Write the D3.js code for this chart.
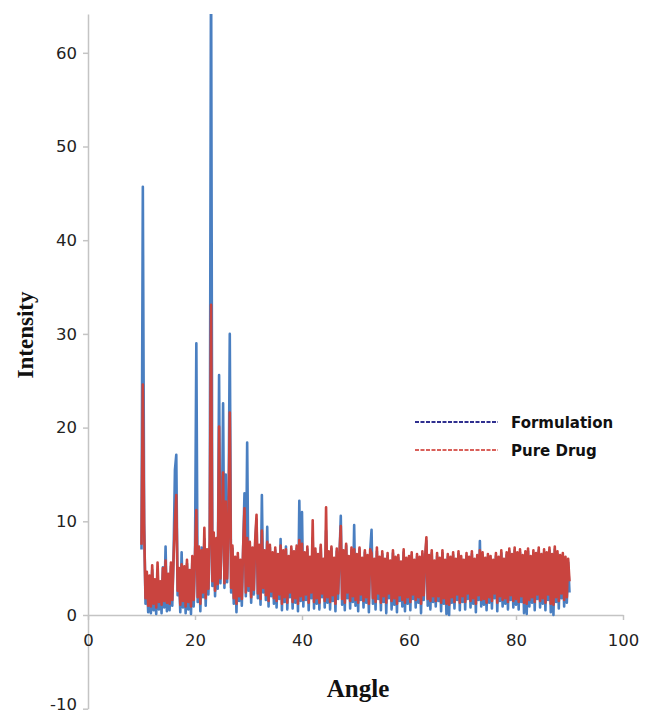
<!DOCTYPE html>
<html lang="en">
  <head>
    <meta charset="UTF-8" />
    <title>XRD</title>
    <script src="https://cdn.jsdelivr.net/npm/d3@7/dist/d3.min.js"></script>
    <style>
      body { margin: 0; background: #fff; }
      #svgBox { width: 646px; height: 716px; display: block; }
    </style>
  </head>
  <body>
    <svg id="svgBox"></svg>
  </body>
  <script>
    // sampling grid of the scan (degrees)
    const angleStart = 10
    const angleStep = 0.25
    const xTicks = [0, 20, 40, 60, 80, 100]
    const yTicks = [-10, 0, 10, 20, 30, 40, 50, 60]
    const seriesNames = ['Formulation', 'Pure Drug']

    // Formulation, 10 -> 90 deg
    const formulation = [
      7.0, 45.7, 9.8, 1.2, 4.1, 0.3, 3.6, 0.2, 4.8, 0.5, 3.2, 0.1, 4.4, 0.6, 3.0, 0.2, 5.1, 0.8, 7.3, 0.4,
      3.8, 0.5, 5.2, 1.0, 6.4, 15.5, 17.1, 2.1, 4.6, 0.3, 6.7, 0.8, 4.9, 0.2, 5.5, 0.6, 4.3, 0.1, 5.8, 0.9,
      5.9, 29.0, 1.4, 6.8, 0.4, 7.2, 1.9, 8.1, 1.0, 6.6, 2.2, 7.5, 72.0, 3.1, 8.4, 2.0, 7.9, 2.8, 25.6, 3.4,
      8.6, 22.6, 2.9, 15.0, 3.5, 9.2, 30.0, 2.4, 7.1, 1.2, 5.8, 0.3, 6.2, 1.5, 5.4, 1.0, 6.9, 13.0, 2.0, 18.4,
      2.6, 7.4, 1.3, 6.8, 2.2, 7.6, 10.2, 1.8, 7.0, 1.1, 12.8, 2.4, 6.5, 1.6, 9.4, 0.9, 7.2, 2.0, 6.3, 1.2,
      6.9, 0.8, 6.1, 1.7, 8.1, 0.5, 6.6, 1.4, 7.3, 0.6, 5.9, 1.9, 7.0, 0.7, 6.4, 1.3, 7.1, 0.4, 12.2, 1.5,
      11.0, 0.9, 6.3, 1.6, 7.0, 0.5, 5.8, 1.8, 8.2, 0.7, 6.7, 1.2, 6.0, 0.6, 7.2, 1.9, 5.6, 0.8, 9.0, 1.3,
      6.4, 0.6, 7.1, 1.5, 5.7, 0.4, 6.8, 1.7, 6.1, 10.6, 1.1, 6.6, 0.5, 7.4, 1.8, 5.9, 0.7, 6.9, 1.4, 9.6,
      1.0, 6.2, 0.4, 7.0, 1.6, 5.8, 0.8, 6.7, 1.3, 6.0, 0.3, 6.9, 9.1, 1.2, 5.6, 0.6, 6.8, 1.7, 5.9, 0.5,
      6.5, 1.4, 5.7, 0.2, 6.3, 1.8, 5.5, 0.6, 6.6, 1.1, 5.9, 0.3, 6.1, 1.5, 5.4, 0.9, 6.7, 0.4, 5.8, 1.2,
      6.0, 0.5, 6.4, 1.7, 5.6, 0.8, 6.2, 1.3, 5.9, 0.2, 6.5, 1.6, 5.7, 7.9, 1.0, 6.1, 0.6, 6.6, 1.4, 5.5,
      0.9, 6.3, 1.5, 5.8, 0.4, 6.6, 1.2, 5.6, 0.1, 6.2, 0.0, 5.9, 1.3, 6.4, 0.7, 5.7, 1.6, 6.5, 0.5, 6.0,
      1.4, 5.6, 0.6, 6.3, 1.7, 5.9, 0.8, 6.5, 1.2, 5.7, 0.3, 6.1, 1.6, 7.9, 0.9, 6.4, 1.1, 5.8, 0.5, 6.2,
      1.3, 6.0, 0.7, 5.6, 1.8, 6.3, 0.4, 5.9, 1.5, 6.6, 0.9, 5.7, 1.2, 6.4, 0.6, 6.8, 1.6, 6.2, 0.8, 6.9,
      1.1, 6.4, 0.6, 6.7, 1.4, 6.1, 0.2, 6.5, 0.1, 6.8, 0.9, 6.0, 1.3, 6.6, 0.5, 6.3, 1.7, 6.9, 0.8, 6.2,
      1.2, 6.7, 0.5, 6.4, 1.6, 6.9, 0.3, 6.2, 0.0, 7.0, 1.4, 6.5, 0.7, 6.1, 1.8, 6.3, 0.9, 5.9, 1.3, 5.6, 2.4
    ]
    // Pure drug, 10 -> 90 deg
    const pureDrug = [
      7.5, 24.6, 9.0, 1.8, 4.6, 1.0, 4.2, 0.9, 5.3, 1.2, 3.8, 0.8, 5.6, 1.4, 3.6, 1.1, 5.0, 1.5, 5.8, 1.3,
      4.4, 1.2, 5.6, 1.6, 6.2, 9.8, 12.8, 2.6, 5.0, 1.1, 5.4, 1.5, 5.2, 0.9, 5.9, 1.4, 4.8, 0.9, 6.3, 1.6,
      6.4, 11.2, 1.9, 7.3, 1.2, 6.9, 2.4, 9.3, 1.8, 7.0, 2.8, 8.0, 33.1, 3.6, 8.8, 2.6, 8.2, 3.3, 20.1, 3.9,
      9.0, 15.2, 3.4, 12.1, 3.9, 9.6, 21.6, 2.9, 7.4, 1.8, 6.2, 1.2, 6.6, 2.0, 5.9, 1.7, 7.3, 11.4, 2.4, 8.2,
      3.1, 7.8, 1.9, 7.2, 2.7, 8.0, 10.7, 2.3, 7.5, 1.7, 9.0, 2.9, 6.9, 2.1, 7.8, 1.5, 7.5, 2.5, 6.7, 1.8,
      7.2, 1.5, 6.5, 2.2, 7.4, 1.2, 6.9, 1.9, 7.0, 1.3, 6.3, 2.4, 7.3, 1.4, 6.8, 1.8, 7.4, 1.2, 8.0, 2.0,
      7.6, 1.6, 6.7, 2.2, 7.3, 1.3, 6.2, 2.4, 10.1, 1.4, 7.1, 1.8, 6.5, 1.3, 7.5, 2.3, 6.0, 1.5, 11.5, 1.9,
      6.8, 1.4, 7.3, 2.1, 6.1, 1.2, 7.1, 2.3, 6.5, 9.5, 1.7, 6.9, 1.3, 7.6, 2.4, 6.3, 1.5, 7.2, 2.0, 7.0,
      1.6, 6.5, 1.3, 7.2, 2.2, 6.1, 1.5, 6.9, 1.9, 6.4, 1.2, 7.0, 6.6, 1.8, 6.0, 1.4, 7.2, 2.3, 6.2, 1.3,
      6.8, 2.0, 6.0, 1.3, 6.6, 2.3, 5.8, 1.5, 6.9, 1.8, 6.2, 1.2, 6.4, 2.1, 5.7, 1.6, 7.0, 1.3, 6.1, 1.9,
      6.3, 1.4, 6.7, 2.2, 5.9, 1.6, 6.5, 1.9, 6.2, 1.2, 6.8, 2.1, 6.0, 8.3, 1.7, 6.4, 1.5, 6.9, 2.0, 5.8,
      1.5, 6.6, 2.0, 6.1, 1.3, 6.9, 1.8, 5.9, 1.2, 6.5, 1.1, 6.2, 1.9, 6.7, 1.4, 6.0, 2.2, 6.8, 1.3, 6.3,
      2.0, 5.9, 1.4, 6.6, 2.3, 6.2, 1.5, 6.8, 1.8, 6.0, 1.2, 6.4, 2.1, 6.9, 1.6, 6.7, 1.7, 6.1, 1.3, 6.5,
      1.9, 6.3, 1.5, 5.9, 2.3, 6.6, 1.3, 6.2, 2.0, 6.9, 1.6, 6.0, 1.8, 6.7, 1.4, 7.1, 2.1, 6.5, 1.5, 7.2,
      1.7, 6.7, 1.4, 7.0, 2.0, 6.4, 1.3, 6.8, 1.2, 7.1, 1.6, 6.3, 1.9, 6.9, 1.4, 6.6, 2.2, 7.2, 1.5, 6.5,
      1.8, 7.0, 1.3, 6.7, 2.2, 7.2, 1.2, 6.5, 1.1, 7.3, 1.9, 6.8, 1.5, 6.4, 2.3, 6.6, 1.6, 6.2, 1.9, 6.0, 3.6
    ]

    function init() {
      const svg = d3.select('#svgBox')
      const [width, height] = [646, 716]
      svg.attr('width', width).attr('height', height)

      // plot box in pixels
      const box = { left: 88, right: 623, top: 14, zeroY: 615, bottom: 708.7 }
      const yTop = (box.zeroY - box.top) / ((box.bottom - box.zeroY) / 10)

      const xScale = d3.scaleLinear().domain([0, 100]).range([box.left, box.right])
      const yScale = d3.scaleLinear().domain([-10, yTop]).range([box.bottom, box.top])

      const axisColor = '#c4c4c4'
      const tickFont = "'DejaVu Sans', sans-serif"

      // y axis, plain hyphen for negatives like the original
      const yAxis = svg.append('g')
        .attr('transform', `translate(${box.left} 0)`)
        .call(d3.axisLeft(yScale).tickValues(yTicks).tickFormat(d => String(d))
          .tickSize(5).tickSizeOuter(0).tickPadding(6))
      yAxis.select('.domain').attr('stroke', axisColor).attr('stroke-width', 1.5)
      yAxis.selectAll('.tick line').attr('stroke', axisColor).attr('stroke-width', 1.5)
      yAxis.selectAll('.tick text')
        .attr('fill', '#222')
        .attr('dy', d => (d === -10 ? '0.05em' : '0.32em'))
        .style('font-family', tickFont)
        .style('font-size', '16.5px')

      // x axis sits on zero
      const xAxis = svg.append('g')
        .attr('transform', `translate(0 ${yScale(0)})`)
        .call(d3.axisBottom(xScale).tickValues(xTicks).tickSize(5).tickSizeOuter(0).tickPadding(14))
      xAxis.select('.domain').attr('stroke', axisColor).attr('stroke-width', 1.5)
      xAxis.selectAll('.tick line').attr('stroke', axisColor).attr('stroke-width', 1.5)
      xAxis.selectAll('.tick text')
        .attr('fill', '#222')
        .style('font-family', tickFont)
        .style('font-size', '16.5px')

      // clip to the plot area (the big peak runs off the top)
      svg.append('clipPath').attr('id', 'plotClip')
        .append('rect')
        .attr('x', box.left)
        .attr('y', box.top)
        .attr('width', box.right - box.left)
        .attr('height', box.bottom - box.top)

      const line = d3.line()
        .x((d, i) => xScale(angleStart + i * angleStep))
        .y(d => yScale(d))

      const series = [
        { name: seriesNames[0], values: formulation, color: '#4a7fc1' },
        { name: seriesNames[1], values: pureDrug, color: '#c9443f' }
      ]

      svg.append('g')
        .attr('clip-path', 'url(#plotClip)')
        .selectAll('path')
        .data(series)
        .join('path')
        .attr('d', d => line(d.values))
        .attr('fill', 'none')
        .attr('stroke', d => d.color)
        .attr('stroke-width', 2.6)
        .attr('stroke-linejoin', 'round')

      // axis titles
      svg.append('text')
        .attr('x', 358)
        .attr('y', 697)
        .attr('text-anchor', 'middle')
        .style('font-family', "'Liberation Serif', 'Times New Roman', serif")
        .style('font-weight', 'bold')
        .style('font-size', '25px')
        .attr('fill', '#111')
        .text('Angle')

      svg.append('text')
        .attr('transform', 'translate(33 335) rotate(-90)')
        .attr('text-anchor', 'middle')
        .style('font-family', "'Liberation Serif', 'Times New Roman', serif")
        .style('font-weight', 'bold')
        .style('font-size', '23px')
        .attr('fill', '#111')
        .text('Intensity')

      // legend
      const legendColors = ['#2f2f8f', '#d9605a']
      const legend = svg.append('g').attr('transform', 'translate(415 422)')
      const items = legend.selectAll('g')
        .data(seriesNames)
        .join('g')
        .attr('transform', (d, i) => `translate(0 ${i * 28})`)
      items.append('line')
        .attr('x1', 0)
        .attr('x2', 83)
        .attr('stroke', (d, i) => legendColors[i])
        .attr('stroke-width', 2)
        .attr('stroke-dasharray', '4,1.5')
      items.append('text')
        .attr('x', 96)
        .attr('y', 6)
        .style('font-family', "'DejaVu Sans', sans-serif")
        .style('font-weight', 'bold')
        .style('font-size', '15px')
        .attr('fill', '#111')
        .text(d => d)
    }
    init()
  </script>
</html>
